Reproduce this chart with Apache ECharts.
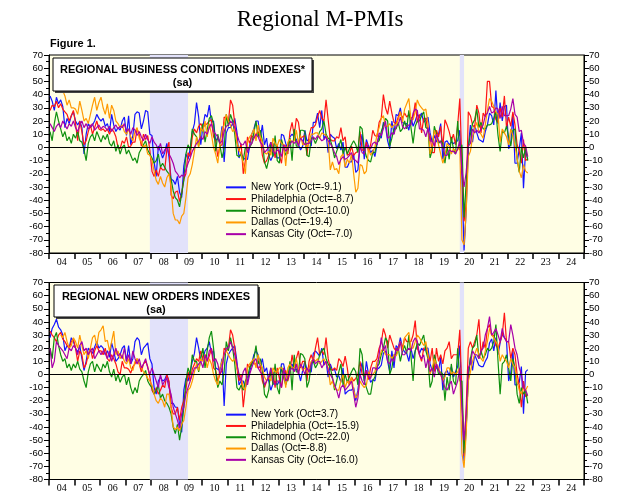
<!DOCTYPE html>
<html><head><meta charset="utf-8">
<script src="https://cdn.jsdelivr.net/npm/echarts@6/dist/echarts.min.js"></script>
<style>html,body{margin:0;padding:0;background:#fff}#c{width:621px;height:500px}</style>
</head><body><div id="c"></div>
<script>
const yearLabels = ['04','05','06','07','08','09','10','11','12','13','14','15','16','17','18','19','20','21','22','23','24'];

// ---- Panel 1: Business conditions (monthly, Jan 2004 - Oct 2022) ----
const nyBC = [
39,35,28,38,33,36,31,15,22,18,24,27,
20,17,20,15,-5,10,18,15,17,20,25,22,
20,22,16,18,12,25,17,12,15,13,20,23,
9,24,2,9,25,27,26,14,20,28,27,10,
9,-11,-22,1,-3,-8,-4,3,-7,-24,-25,-28,
-22,-34,-38,-14,-5,-9,-1,12,18,34,23,2,
16,25,23,32,19,20,5,7,4,16,-11,11,
15,15,18,22,12,-8,-4,-8,-9,-9,1,10,
14,20,20,7,17,2,7,-6,-10,-6,-5,-8,
-8,10,9,3,-1,8,10,8,6,2,-2,1,
13,5,6,1,19,19,26,15,28,6,10,-4,
10,8,7,-1,3,-2,4,-15,-15,-11,-11,-5,
-19,-17,1,10,-9,6,1,-4,-2,-7,2,9,
7,19,16,5,-1,20,10,25,24,30,19,18,
18,13,23,16,20,25,23,26,19,21,23,11,
4,9,4,10,18,-9,4,5,2,4,3,4,
5,13,-22,-78,-48,0,17,4,17,11,6,5,
4,12,17,26,24,17,43,18,34,20,31,32,
-1,3,25,-12,-12,-1,11,-31,-2,-9.1];
const phBC = [
28,32,31,35,30,33,29,27,25,20,24,28,
18,5,20,12,2,5,12,17,10,15,20,14,
13,14,12,14,10,14,12,8,0,-1,5,3,
8,0,1,4,4,14,10,1,10,6,9,-2,
-18,-22,-17,-22,-15,-17,-17,-2,4,-36,-39,-34,
-33,-41,-35,-24,-20,-4,-7,8,14,11,16,18,
15,17,18,20,21,8,5,-7,1,2,23,22,
19,36,32,18,4,-3,3,-20,-10,8,3,9,
7,10,12,8,-6,-12,-10,-6,-2,3,-8,2,
-6,-12,2,1,-5,12,19,9,22,19,7,8,
9,-6,9,15,15,17,23,28,22,20,36,21,
6,5,5,8,7,15,5,8,-6,-5,1,-6,
-4,-3,12,-2,-2,4,-3,2,13,9,8,19,
22,40,30,25,35,26,19,18,23,27,22,26,
23,25,22,23,34,19,25,11,22,22,12,9,
-4,-4,13,8,16,0,21,17,12,5,10,2,
17,37,-13,-56,-43,27,24,17,15,32,26,11,
26,23,50,50,31,30,21,19,30,23,39,15,
23,16,27,17,2,-3,-12,6,-10,-8.7];
const riBC = [
12,5,18,27,20,14,8,12,5,8,3,10,
7,12,5,4,-2,-10,3,8,10,5,12,8,
4,9,6,10,3,1,5,-3,2,-5,0,2,
-5,-2,-6,-10,-8,-12,-4,-1,2,5,-2,-5,
-8,-12,-10,-5,-15,-12,-15,-18,-20,-24,-33,-38,
-40,-45,-35,-25,-5,2,-2,14,10,8,1,12,
18,4,13,22,24,18,-3,10,2,-8,-1,25,
16,25,20,10,-6,-7,-5,-10,0,-1,0,3,
11,20,8,13,5,-11,-16,-9,4,-7,9,-10,
-12,6,0,-6,-2,7,-10,14,1,1,13,13,
12,-6,-7,7,7,3,7,12,14,20,10,7,
6,0,-8,-3,1,6,-5,0,-5,-1,2,5,
2,-4,16,14,-1,-7,-10,-11,-4,-4,4,5,
12,17,22,20,1,7,14,14,19,12,14,20,
14,28,15,3,16,20,20,24,27,15,14,-8,
-2,16,10,3,5,3,-12,1,-9,8,-1,-5,
20,-2,2,-53,-27,0,10,18,21,29,15,19,
14,14,17,17,18,22,27,9,-3,12,11,16,
8,1,13,14,-9,-19,0,-8,0,-10];
const daBC = [
null,null,null,null,null,47,43,39,32,36,30,30,
29,25,35,28,20,22,18,25,32,38,28,34,
38,30,25,33,22,32,28,20,18,15,17,12,
10,14,8,5,12,15,7,4,0,2,-5,-6,
-10,-18,-25,-28,-22,-27,-30,-23,-20,-30,-50,-55,
-55,-58,-52,-50,-38,-23,-20,-13,-3,8,0,15,
12,20,8,18,10,0,-5,-12,2,13,17,25,
20,17,12,14,4,-2,-5,-12,-20,4,8,10,
14,5,17,8,4,-4,-5,-3,-6,7,3,1,
6,3,2,-14,4,6,4,5,13,3,9,2,
3,0,4,10,10,11,11,7,11,10,9,5,
-17,-11,-17,-16,-20,-7,-5,-15,-9,-12,-5,-20,
-34,-31,-13,-14,-20,-18,-1,-6,-3,0,10,15,
22,24,16,16,18,15,17,17,21,27,19,29,
33,37,21,21,27,36,32,30,28,29,18,-5,
1,13,8,2,-5,-12,-6,3,1,-5,-1,-3,
-2,1,-70,-74,-49,-7,-3,8,14,19,12,10,
7,17,28,37,35,31,27,25,4,14,11,8,
2,14,9,1,-8,-18,-23,-13,-18,-19.4];
const kcBC = [
18,15,12,16,18,15,20,17,14,18,16,20,
15,12,17,20,15,18,14,16,18,13,15,17,
14,16,15,13,16,12,15,17,14,16,15,18,
12,14,10,15,13,9,12,8,5,10,6,3,
8,4,2,-2,3,-5,-2,0,-5,-8,-12,-18,
-20,-23,-21,-22,-17,-12,-8,-3,0,3,5,8,
6,12,10,15,18,12,10,8,3,5,12,16,
17,20,18,15,10,5,2,2,5,-4,1,3,
7,10,8,4,2,-4,-2,0,4,-3,-5,-2,
-3,-7,2,-3,-1,2,5,3,5,1,7,5,
2,3,3,5,8,6,9,7,5,6,8,5,
3,0,-4,-7,-13,-9,-7,-9,-8,-6,-4,-9,
-10,-12,1,-4,-5,2,0,-1,3,4,2,11,
9,14,20,7,8,11,10,16,17,23,16,14,
16,17,17,26,29,28,14,14,13,8,15,5,
5,1,10,5,4,0,-6,-6,-2,-3,-3,-5,
-1,5,-17,-30,-19,1,3,14,11,13,11,14,
17,24,26,31,26,27,30,29,22,31,24,24,
24,29,37,25,23,12,13,3,1,-7];

// ---- Panel 2: New orders ----
const nyNO = [
28,35,38,42,36,34,30,18,22,20,28,25,
20,17,22,12,3,10,20,18,16,21,25,20,
22,20,15,18,13,24,18,10,12,15,20,22,
10,22,8,12,25,28,26,15,20,22,24,12,
8,-10,-15,-5,-2,-5,-4,0,-6,-22,-22,-25,
-25,-38,-44,-12,-3,-5,2,10,16,28,20,10,
12,18,20,25,16,18,5,4,3,12,-24,8,
15,18,20,22,10,-8,-5,-5,-10,-5,2,8,
15,18,15,6,12,2,5,-5,-12,-7,-5,-8,
-5,8,8,0,-3,5,8,3,4,2,-5,3,
10,4,2,2,16,18,16,14,20,7,10,-2,
8,3,4,-2,-1,-6,5,-15,-13,-12,-12,-10,
-20,-12,2,9,-5,10,0,-6,-4,-5,4,5,
7,16,18,10,2,18,5,22,20,28,20,17,
16,10,20,12,18,22,16,20,18,20,20,8,
3,7,5,3,13,-12,1,3,-1,6,-2,2,
6,22,-19,-66,-42,0,13,3,15,11,7,6,
6,10,13,24,27,18,28,15,24,31,28,26,
-5,1,18,-8,-8,-6,6,-30,2,3.7];
const phNO = [
33,30,28,25,30,32,27,25,22,20,25,27,
20,10,18,15,5,8,15,20,12,18,22,18,
18,15,20,12,10,15,12,8,2,0,10,5,
5,4,1,6,8,12,8,2,8,10,6,-2,
-12,-15,-10,-15,-12,-8,-10,0,-5,-25,-30,-30,
-25,-35,-25,-20,-12,2,-5,4,8,12,10,18,
12,15,10,14,20,5,3,-5,0,3,20,18,
20,34,30,20,5,-5,0,-25,-10,8,5,10,
8,8,5,6,-5,-10,-5,-2,0,2,-10,5,
-3,-10,0,3,-5,2,15,5,12,18,5,10,
10,-5,10,15,10,20,28,15,18,15,28,12,
5,3,5,3,12,10,6,14,5,-8,-2,-5,
-3,0,10,0,-1,3,-4,5,10,10,12,20,
24,35,30,20,30,25,20,18,20,25,20,28,
25,25,25,30,41,20,15,10,20,20,15,10,
20,2,20,10,15,8,18,20,25,12,15,15,
15,34,-15,-62,-25,20,25,20,25,30,42,15,
25,20,35,38,30,30,22,20,25,30,47,25,
25,12,20,15,0,-8,-25,-5,-17,-15.9];
const riNO = [
20,12,28,32,22,15,10,12,5,8,3,8,
5,10,4,2,-5,-10,2,8,10,2,8,5,
2,8,5,10,2,-2,4,-5,0,-6,-2,0,
-8,-2,-10,-15,-10,-14,-5,-2,0,3,-5,-8,
-10,-15,-12,-8,-18,-15,-20,-22,-25,-30,-40,-45,
-38,-50,-40,-25,-5,5,0,15,10,10,2,12,
20,5,18,28,33,20,2,-10,-5,-8,2,25,
18,28,20,8,-10,-12,-8,-12,-5,-2,5,8,
12,22,8,12,3,-15,-18,-12,5,-8,8,-10,
-15,6,-2,-8,-3,10,-12,15,2,2,16,15,
12,-10,-5,8,10,5,8,15,18,20,12,8,
5,-2,-12,-5,2,8,-8,0,-6,-2,2,5,
2,-8,20,15,-5,-10,-15,-15,-5,-2,6,8,
15,20,28,25,0,5,15,15,20,10,18,22,
16,30,14,-5,18,24,22,26,30,18,12,-10,
-5,15,8,0,2,0,-20,-2,-12,8,-5,-8,
20,-5,-5,-60,-40,-2,12,20,22,30,12,18,
12,15,20,18,20,25,38,10,-15,8,10,15,
5,-5,12,5,-15,-22,-10,-15,-12,-22];
const daNO = [
null,null,null,null,null,30,28,32,25,20,22,28,
25,20,30,22,15,18,12,20,28,30,22,32,
34,37,25,26,18,25,33,15,18,12,15,10,
8,12,5,3,10,12,8,5,2,0,-3,-5,
-8,-15,-20,-22,-18,-20,-25,-15,-15,-25,-40,-42,
-40,-43,-38,-35,-25,-12,-10,-5,2,8,3,12,
10,15,5,12,8,0,-5,-8,5,10,15,18,
15,12,10,12,5,0,-2,-10,-12,5,8,10,
12,5,15,8,5,-2,-5,-2,-5,5,2,2,
5,5,3,-10,5,8,5,5,12,3,8,3,
5,2,5,10,12,10,12,8,10,12,8,5,
-8,-5,-10,-12,-12,-5,0,-10,-5,-8,-2,-12,
-18,-15,-5,-8,-10,-8,2,-2,0,2,10,12,
18,20,15,15,15,12,15,14,18,25,18,28,
30,32,20,20,25,30,28,25,22,25,15,0,
5,12,8,5,0,-5,-2,5,5,0,2,0,
2,5,-60,-71,-45,-5,2,10,15,20,15,12,
10,18,25,35,30,28,25,22,10,15,12,10,
5,12,8,5,-5,-12,-15,-10,-12,-8.8];
const kcNO = [
20,5,10,25,22,20,18,15,12,20,18,22,
20,15,22,25,18,20,15,18,20,12,15,18,
15,18,16,12,18,10,15,20,14,16,12,20,
10,15,8,18,12,8,12,5,8,12,5,0,
5,0,-5,-10,0,-8,-5,-3,-10,-15,-25,-30,
-35,-41,-30,-25,-15,-10,-5,0,5,5,8,10,
5,15,10,18,20,10,12,8,0,5,15,20,
20,25,20,15,8,0,-5,2,5,-8,0,5,
10,12,5,2,0,-8,-5,-2,5,-5,-8,-5,
-5,-10,5,-5,-3,3,5,2,8,0,8,5,
0,5,2,8,12,8,10,10,5,8,10,3,
0,-3,-8,-12,-18,-10,-8,-12,-10,-8,-5,-15,
-25,-18,0,-5,-8,3,-2,-3,5,5,3,15,
28,18,22,10,8,12,10,20,18,25,15,15,
18,20,18,25,28,25,15,12,15,5,12,2,
5,-2,8,3,0,-5,-10,-12,-8,-5,-15,-10,
-5,5,-25,-50,-30,5,8,18,15,15,12,18,
20,30,35,44,30,32,35,30,25,35,28,25,
25,38,30,20,15,5,0,-10,-12,-16];

const names1 = ['New York (Oct=-9.1)','Philadelphia (Oct=-8.7)','Richmond (Oct=-10.0)','Dallas (Oct=-19.4)','Kansas City (Oct=-7.0)'];
const names2 = ['New York (Oct=3.7)','Philadelphia (Oct=-15.9)','Richmond (Oct=-22.0)','Dallas (Oct=-8.8)','Kansas City (Oct=-16.0)'];
const colors = ['#1414ff','#ff1414','#0f900f','#ff9a00','#a800a8'];
const recessions = [['2007-12','2009-06'],['2020-02','2020-04']];

const months = [];
for (let y = 2004; y <= 2024; y++) for (let m = 1; m <= 12; m++) months.push(y + '-' + String(m).padStart(2, '0'));

const panels = [
  {data:[nyBC,phBC,riBC,daBC,kcBC], names:names1},
  {data:[nyNO,phNO,riNO,daNO,kcNO], names:names2}
];
const gridsPos = [{top:55, height:198}, {top:282.5, height:197}];

const SANS = '"Liberation Sans", Arial, Helvetica, sans-serif';
const SERIF = '"Liberation Serif", "Times New Roman", serif';

const grid = [], xAxis = [], yAxis = [], series = [];
gridsPos.forEach((p, g) => {
  grid.push({left:49, width:535, top:p.top, height:p.height, show:true, backgroundColor:'#fffee4', borderColor:'#000', borderWidth:1});
  xAxis.push({type:'category', gridIndex:g, data:months, boundaryGap:true, show:false, position:'top', axisLine:{onZero:false}});
  xAxis.push({type:'category', gridIndex:g, data:yearLabels, boundaryGap:true, position:'bottom',
    axisLine:{show:true, onZero:false, lineStyle:{color:'#000', width:1}},
    axisTick:{show:true, interval:0, length:6, lineStyle:{color:'#000', width:1.5}},
    axisLabel:{interval:0, fontFamily:SERIF, fontSize:10, color:'#000', margin:4},
    splitLine:{show:false}});
  ['left','right'].forEach(pos => {
    yAxis.push({type:'value', gridIndex:g, position:pos, min:-80, max:70, interval:10,
      axisLine:{show:true, onZero:false, lineStyle:{color:'#000'}},
      axisTick:{show:true, length:5, lineStyle:{color:'#000'}},
      minorTick:{show:true, splitNumber:2, length:3, lineStyle:{color:'#000'}},
      splitLine:{show:false},
      axisLabel:{fontFamily:SANS, fontSize:9.5, color:'#000', margin:pos === 'left' ? 6 : 5}});
  });
  series.push({type:'line', data:[], xAxisIndex:g*2, yAxisIndex:g*2, z:1, silent:true,
    markArea:{silent:true, itemStyle:{color:'#e2e2fa'}, data:recessions.map(r => [{xAxis:r[0]},{xAxis:r[1]}])}});
  const P = panels[g];
  P.data.forEach((d, i) => {
    series.push({type:'line', name:P.names[i], data:d, xAxisIndex:g*2, yAxisIndex:g*2,
      showSymbol:false, symbol:'none', z:3, connectNulls:false,
      lineStyle:{width:1.2, color:colors[i]}, itemStyle:{color:colors[i]}});
  });
  series.push({type:'line', data:[], xAxisIndex:g*2, yAxisIndex:g*2, z:4, silent:true,
    markLine:{silent:true, symbol:'none', label:{show:false}, lineStyle:{color:'#000', width:1, type:'solid'}, data:[{yAxis:0}]}});
});

const legendBase = {orient:'vertical', icon:'rect', itemWidth:20, itemHeight:2, itemGap:0, selectedMode:false, left:221};
const legend = [
  Object.assign({}, legendBase, {data:names1, top:176.5, textStyle:{fontFamily:SANS, fontSize:10, color:'#000', lineHeight:11.7}}),
  Object.assign({}, legendBase, {data:names2, top:404, textStyle:{fontFamily:SANS, fontSize:10, color:'#000', lineHeight:11.3}})
];

function boxGroup(x, y, w, h, line1) {
  return [
    {type:'rect', z:100, shape:{x:x+2, y:y+2, width:w, height:h}, style:{fill:'#444'}},
    {type:'rect', z:101, shape:{x:x, y:y, width:w, height:h}, style:{fill:'#fff', stroke:'#000', lineWidth:1}},
    {type:'text', z:102, x:x + w/2, y:y + 11.5, style:{text:line1, fill:'#000', font:'bold 11px ' + SANS, textAlign:'center', textVerticalAlign:'middle'}},
    {type:'text', z:102, x:x + w/2, y:y + 24.5, style:{text:'(sa)', fill:'#000', font:'bold 11px ' + SANS, textAlign:'center', textVerticalAlign:'middle'}}
  ];
}

const graphic = [
  {type:'text', x:320, y:20, style:{text:'Regional M-PMIs', fill:'#000', font:'23px ' + SERIF, textAlign:'center', textVerticalAlign:'middle'}},
  {type:'text', x:50, y:44, style:{text:'Figure 1.', fill:'#000', font:'bold 11px ' + SANS, textAlign:'left', textVerticalAlign:'middle'}}
].concat(boxGroup(53, 58, 259, 33, 'REGIONAL BUSINESS CONDITIONS INDEXES*'))
 .concat(boxGroup(54, 285, 204, 32, 'REGIONAL NEW ORDERS INDEXES'));

const chart = echarts.init(document.getElementById('c'), null, {renderer:'canvas'});
chart.setOption({animation:false, backgroundColor:'#fff', grid, xAxis, yAxis, series, legend, graphic});
</script>
</body></html>
